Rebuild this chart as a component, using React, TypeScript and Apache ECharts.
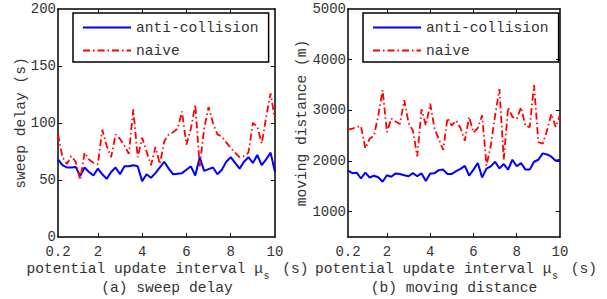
import React, { useEffect, useRef } from "react";
import * as echarts from "echarts";

const xValues = [
  0.2, 0.4, 0.6, 0.8, 1.0, 1.2, 1.4, 1.6, 1.8, 2.0,
  2.2, 2.4, 2.6, 2.8, 3.0, 3.2, 3.4, 3.6, 3.8, 4.0,
  4.2, 4.4, 4.6, 4.8, 5.0, 5.2, 5.4, 5.6, 5.8, 6.0,
  6.2, 6.4, 6.6, 6.8, 7.0, 7.2, 7.4, 7.6, 7.8, 8.0,
  8.2, 8.4, 8.6, 8.8, 9.0, 9.2, 9.4, 9.6, 9.8, 10.0,
];

const delayAnti = [
  68, 63, 61, 61, 61.5, 53.5, 61, 57, 54, 60,
  55, 51, 57, 61, 55, 62, 62, 63, 62, 49,
  55, 52, 56, 61, 66, 60, 55, 55.5, 56, 59,
  62, 54, 70, 58, 59.5, 61, 55, 59, 66, 70,
  65, 60, 66, 70, 65, 72, 63, 68, 74, 57,
];

const delayNaive = [
  90, 70, 64, 71, 66, 50, 74, 68, 65, 64,
  94, 80, 70, 90, 86, 80, 73, 112, 70, 87,
  75, 63, 79, 64, 84, 90, 92, 95, 110, 81,
  95, 116, 62, 95, 114, 100, 90, 88, 83, 78,
  74, 70, 71, 74, 100, 97, 82, 105, 126, 103,
];

const distAnti = [
  1810, 1760, 1770, 1655, 1770, 1675, 1710, 1680, 1590, 1720,
  1690, 1755, 1745, 1720, 1700, 1760, 1700, 1755, 1605, 1755,
  1760, 1820, 1830, 1745, 1745, 1800, 1845, 1905, 1710, 1830,
  1960, 1675, 1850, 1895, 1985, 1855, 1940, 1830, 2025, 1895,
  1960, 1830, 1830, 1985, 2025, 2150, 2130, 2085, 2005, 2025,
];

const distNaive = [
  2620, 2640, 2670, 2690, 2250, 2440, 2500, 2900, 3400, 2570,
  2840, 2780, 2730, 3200, 2750, 2600, 2090, 3020, 2700, 3130,
  2640, 2430, 2220, 2850, 2700, 2800, 2650, 2400, 2870, 2560,
  2650, 2900, 1910, 2300, 2900, 3420, 2030, 3060, 2870, 2830,
  3060, 2690, 2670, 3500, 2370, 2340, 2600, 2930, 2670, 2910,
];

const seriesNames = ["anti-collision", "naive"];
const xTickLabels = [0.2, 2, 4, 6, 8, 10];
const xInnerTicks = [2, 4, 6, 8];
const delayTickLabels = [0, 50, 100, 150, 200];
const delayInnerTicks = [50, 100, 150];
const distTickLabels = [1000, 2000, 3000, 4000, 5000];
const distInnerTicks = [1000, 2000, 3000, 4000];

const FONT = "'Liberation Mono', 'Courier New', monospace";
const TEXT = "#333";
const FS = 14.6;
const CW = FS * 0.6;

const plain = (v: number) => String(v);

function xAxisPair(gridIndex: number) {
  const common = {
    type: "value" as const,
    gridIndex,
    min: 0.2,
    max: 10,
    axisLine: { show: true, onZero: false, lineStyle: { color: "#000", width: 1.5 } },
    axisTick: { show: true, inside: true, length: 4, customValues: xInnerTicks, lineStyle: { color: "#000", width: 1 } },
    splitLine: { show: false },
  };
  return [
    {
      ...common,
      position: "bottom",
      axisLabel: { show: true, customValues: xTickLabels, formatter: plain, margin: 8, fontSize: 14, color: TEXT, fontFamily: FONT },
    },
    { ...common, position: "top", axisLabel: { show: false } },
  ];
}

function yAxisPair(gridIndex: number, min: number, max: number, labels: number[], ticks: number[]) {
  const common = {
    type: "value" as const,
    gridIndex,
    min,
    max,
    axisLine: { show: true, onZero: false, lineStyle: { color: "#000", width: 1.5 } },
    axisTick: { show: true, inside: true, length: 4, customValues: ticks, lineStyle: { color: "#000", width: 1 } },
    splitLine: { show: false },
  };
  return [
    {
      ...common,
      position: "left",
      axisLabel: { show: true, customValues: labels, formatter: plain, margin: 2, fontSize: 14, color: TEXT, fontFamily: FONT },
    },
    { ...common, position: "right", axisLabel: { show: false } },
  ];
}

function lineSeries(name: string, xIdx: number, yIdx: number, values: number[], naive: boolean) {
  return {
    type: "line",
    name,
    xAxisIndex: xIdx,
    yAxisIndex: yIdx,
    data: xValues.map((x, i) => [x, values[i]]),
    symbol: "none",
    showSymbol: false,
    clip: true,
    lineStyle: naive
      ? { color: "#ff0000", width: 1.8, type: [7, 3, 1.5, 3] }
      : { color: "#0000ff", width: 2, type: "solid" },
    itemStyle: { color: naive ? "#ff0000" : "#0000ff" },
  };
}

function legendAt(left: number) {
  return {
    left,
    top: 13,
    orient: "vertical",
    data: seriesNames,
    borderColor: "#000",
    borderWidth: 1.5,
    padding: [7, 10, 4, 9],
    itemWidth: 48,
    itemHeight: 14,
    itemGap: 8,
    itemStyle: { opacity: 0 },
    selectedMode: false,
    textStyle: { fontSize: FS, fontFamily: FONT, color: TEXT },
  };
}

function xLabel(x0: number) {
  return [
    { type: "text", x: x0, y: 269, style: { text: "potential update interval μ", font: `${FS}px ${FONT}`, fill: TEXT, align: "left", verticalAlign: "middle" } },
    { type: "text", x: x0 + 27 * CW + 0.5, y: 276, style: { text: "s", font: `10px ${FONT}`, fill: TEXT, align: "left", verticalAlign: "middle" } },
    { type: "text", x: x0 + 27 * CW + 10.5, y: 269, style: { text: " (s)", font: `${FS}px ${FONT}`, fill: TEXT, align: "left", verticalAlign: "middle" } },
  ];
}

function centered(text: string, x: number, y: number, rotate = false) {
  return {
    type: "text",
    x,
    y,
    rotation: rotate ? Math.PI / 2 : 0,
    style: { text, font: `${FS}px ${FONT}`, fill: TEXT, align: "center", verticalAlign: "middle" },
  };
}

export default function App() {
  const ref = useRef<HTMLDivElement>(null);
  useEffect(() => {
    if (!ref.current) return;
    const chart = echarts.init(ref.current, undefined, { renderer: "svg" });
    chart.setOption({
      animation: false,
      backgroundColor: "#fff",
      grid: [
        { left: 58, top: 9, width: 217, height: 228, containLabel: false },
        { left: 348, top: 9, width: 212, height: 228, containLabel: false },
      ],
      xAxis: [...xAxisPair(0), ...xAxisPair(1)],
      yAxis: [
        ...yAxisPair(0, 0, 200, delayTickLabels, delayInnerTicks),
        ...yAxisPair(1, 500, 5000, distTickLabels, distInnerTicks),
      ],
      legend: [legendAt(73), legendAt(363)],
      series: [
        lineSeries(seriesNames[0], 0, 0, delayAnti, false),
        lineSeries(seriesNames[1], 0, 0, delayNaive, true),
        lineSeries(seriesNames[0], 2, 2, distAnti, false),
        lineSeries(seriesNames[1], 2, 2, distNaive, true),
      ],
      graphic: [
        centered("sweep delay (s)", 21, 123, true),
        centered("moving distance (m)", 302, 123, true),
        ...xLabel(26.5),
        ...xLabel(315),
        centered("(a) sweep delay", 167, 288),
        centered("(b) moving distance", 454, 288),
      ],
    });
    return () => chart.dispose();
  }, []);
  return (
    <div
      ref={ref}
      style={{ position: "fixed", left: 0, top: 0, width: 607, height: 299, background: "#fff" }}
    />
  );
}
